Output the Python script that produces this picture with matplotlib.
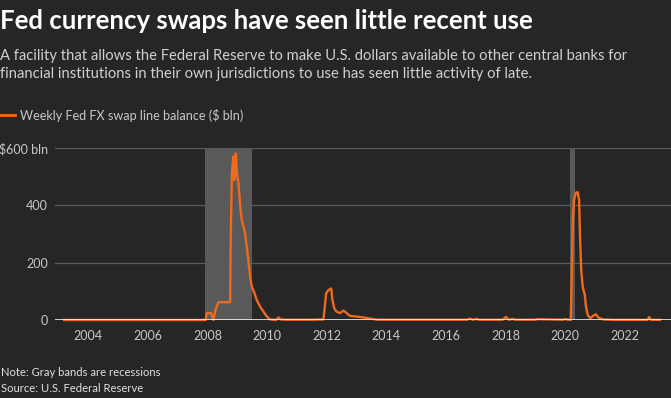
import matplotlib.pyplot as plt

# weekly Fed FX swap line balance, $ bln (decimal years)
years = [2003.2, 2007.94, 2007.97, 2008.0, 2008.12, 2008.16, 2008.2, 2008.27, 2008.37,
         2008.5, 2008.76, 2008.78, 2008.82, 2008.87, 2008.90, 2008.95, 2008.99,
         2009.04, 2009.10, 2009.15, 2009.21, 2009.26, 2009.32, 2009.37, 2009.43,
         2009.49, 2009.58, 2009.65, 2009.77, 2009.88, 2009.99, 2010.10, 2010.3,
         2010.38, 2010.45, 2010.6, 2011.0, 2011.5, 2011.89, 2011.98, 2012.06,
         2012.15, 2012.19, 2012.25, 2012.33, 2012.45, 2012.56, 2012.67, 2012.78,
         2013.0, 2013.23, 2013.45, 2013.7, 2014.5, 2015.5, 2016.7, 2016.8,
         2016.9, 2017.03, 2017.1, 2017.9, 2018.01, 2018.1, 2018.25, 2018.3,
         2019.0, 2019.05, 2019.9, 2020.0, 2020.1, 2020.18, 2020.25, 2020.29,
         2020.35, 2020.41, 2020.46, 2020.49, 2020.53, 2020.58, 2020.65, 2020.69,
         2020.75, 2020.83, 2020.94, 2021.02, 2021.11, 2021.27, 2021.6, 2022.3,
         2022.75, 2022.81, 2022.87, 2023.17]
balance = [0, 0, 23, 24, 24, 12, 0, 35, 62,
           62, 62, 279, 512, 570, 488, 581, 512,
           477, 395, 349, 326, 302, 256, 209, 151,
           116, 93, 70, 46, 29, 12, 2, 0,
           9, 2, 1, 1, 1, 2, 93, 105,
           110, 70, 41, 29, 24, 33, 24, 14,
           12, 9, 5, 1, 1, 1, 1, 5,
           1, 4, 1, 1, 11, 1, 4, 1,
           1, 3, 1, 3, 1, 0, 349, 419,
           444, 446, 419, 291, 174, 116, 87, 46,
           17, 6, 15, 20, 8, 2, 0.5, 0.5,
           0.5, 10, 0.5, 0.5]

recessions = [(2007.92, 2009.5), (2020.16, 2020.33)]
yticks = [0, 200, 400, 600]
ytick_labels = ["0", "200", "400", "$600 bln"]
xticks = list(range(2004, 2023, 2))

bg = "#262626"
orange = "#f06a1d"

plt.rcParams['font.family'] = ['Lato', 'DejaVu Sans']

fig = plt.figure(figsize=(6.71, 3.98), dpi=100, facecolor=bg)
ax = fig.add_axes([55 / 671, 1 - 320 / 398, 616 / 671, 172 / 398], facecolor=bg)

for a, b in recessions:
    ax.axvspan(a, b, color="#595959", lw=0, zorder=1)

for v in yticks[1:]:
    ax.axhline(v, color="#5c5c5c", lw=0.9, zorder=0)

ax.plot(years, balance, color=orange, lw=1.7, zorder=3, clip_on=False)
ax.axhline(0, color="white", lw=1.1, zorder=4)

ax.set_xlim(2002.89, 2023.54)
ax.set_ylim(0, 600)
ax.set_yticks(yticks)
ax.set_yticklabels(ytick_labels)
ax.set_xticks(xticks)
ax.set_xticklabels([str(x) for x in xticks])
ax.tick_params(length=0, colors="#c8c8c8", labelsize=9)
ax.tick_params(axis="x", pad=7)
ax.tick_params(axis="y", pad=5)
for s in ax.spines.values():
    s.set_visible(False)

fig.text(0.0, 1 - 21 / 398, "Fed currency swaps have seen little recent use",
         color="white", fontsize=18.5, fontweight="bold", va="center", ha="left")
fig.text(0.0, 1 - 65 / 398,
         "A facility that allows the Federal Reserve to make U.S. dollars available to other central banks for\n"
         "financial institutions in their own jurisdictions to use has seen little activity of late.",
         color="#d0d0d0", fontsize=10.6, va="center", ha="left", linespacing=1.35)
fig.add_artist(plt.Line2D([0, 15 / 671], [1 - 115 / 398] * 2, color=orange, lw=2))
fig.text(20 / 671, 1 - 115 / 398, "Weekly Fed FX swap line balance (\\$ bln)",
         color="#c8c8c8", fontsize=9.1, va="center", ha="left")
fig.text(0.002, 1 - 372 / 398, "Note: Gray bands are recessions", color="#e0e0e0",
         fontsize=8.1, va="center", ha="left")
fig.text(0.002, 1 - 389 / 398, "Source: U.S. Federal Reserve", color="#e0e0e0",
         fontsize=8.1, va="center", ha="left")

fig.savefig("out.png", dpi=100, facecolor=bg)
